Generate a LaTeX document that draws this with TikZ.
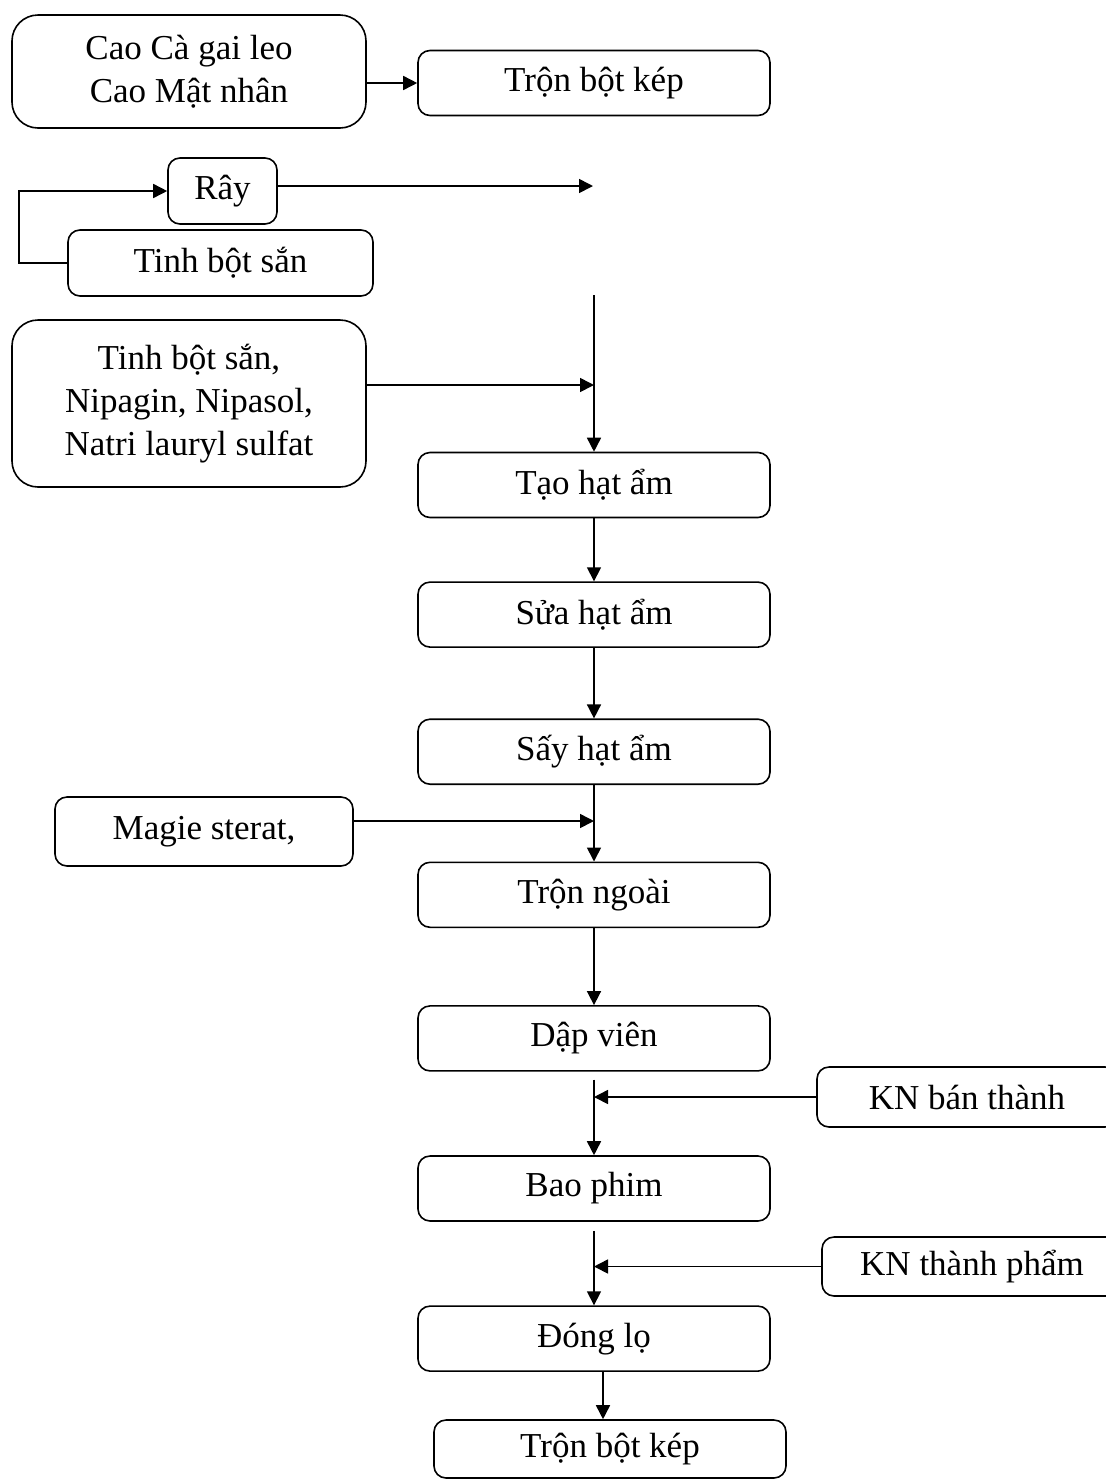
\documentclass[tikz,border=0pt]{standalone}
\usepackage{fontspec}
\setmainfont{Liberation Serif}
\usepackage{tikz}
\usetikzlibrary{arrows.meta,positioning}

\begin{document}
\begin{tikzpicture}[
  x=0.5pt, y=-0.5pt,
  stepbox/.style={draw, line width=0.8pt, rounded corners=6pt, minimum width=176pt, minimum height=32.5pt, align=center, font=\fontsize{17.5}{21.5}\selectfont},
  inbox/.style={stepbox, rounded corners=13pt},
  arr/.style={-{Triangle[length=7pt, width=7pt]}, line width=0.8pt}
]
  \useasboundingbox (0,0) rectangle (1105,1479);

  % inputs on the left
  \node[inbox, minimum width=177pt, minimum height=56.5pt] (cao) at (189,71.5) {Cao Cà gai leo\\Cao Mật nhân};
  \node[stepbox] (tronkep) at (594,83) {Trộn bột kép};
  \node[stepbox, minimum width=54.5pt, minimum height=33pt] (ray) at (222.5,191) {Rây};
  \node[stepbox, minimum width=152.5pt, minimum height=33pt] (tinhbot) at (220.5,263) {Tinh bột sắn};
  \node[inbox, minimum width=177pt, minimum height=83.5pt] (phulieu) at (189,403.5) {Tinh bột sắn,\\Nipagin, Nipasol,\\Natri lauryl sulfat};
  \node[stepbox, minimum width=149pt, minimum height=34.5pt] (magie) at (204,831.5) {Magie sterat,};

  % main column
  \node[stepbox] (taohat) at (594,485) {Tạo hạt ẩm};
  \node[stepbox, below=31.5pt of taohat]   (suahat)   {Sửa hạt ẩm};
  \node[stepbox, below=35.25pt of suahat]  (sayhat)   {Sấy hạt ẩm};
  \node[stepbox, below=38.25pt of sayhat]  (tronngoai) {Trộn ngoài};
  \node[stepbox, below=38.5pt of tronngoai] (dapvien) {Dập viên};
  \node[stepbox, below=41.75pt of dapvien] (baophim)  {Bao phim};
  \node[stepbox, below=41.75pt of baophim] (donglo)   {Đóng lọ};
  \node[stepbox, minimum height=29pt] (tronkep2) at (610,1449) {Trộn bột kép};

  % checks on the right
  \node[stepbox, minimum width=150pt, minimum height=30pt] (knban) at (967,1097) {KN bán thành};
  \node[stepbox, minimum width=150pt, minimum height=29.5pt] (kntp) at (972,1266.5) {KN thành phẩm};

  \coordinate (rayend) at (593,186);
  \coordinate (cottop) at (594,295);
  \coordinate (join1)  at (594,385);
  \coordinate (join2)  at (594,821);

  \draw[arr] (cao.east |- tronkep) -- (tronkep);
  \draw[arr] (tinhbot.west) -- ++(-48,0) |- (ray.west);
  \draw[arr] (ray.east |- rayend) -- (rayend);
  \draw[arr] (cottop) -- (taohat);
  \draw[arr] (phulieu.east |- join1) -- (join1);
  \draw[arr] (taohat) -- (suahat);
  \draw[arr] (suahat) -- (sayhat);
  \draw[arr] (sayhat) -- (tronngoai);
  \draw[arr] (magie.east |- join2) -- (join2);
  \draw[arr] (tronngoai) -- (dapvien);
  \draw[arr] ([yshift=-4pt]dapvien.south) -- (baophim);
  \draw[arr] (knban.west) -- (knban.west -| baophim);
  \draw[arr] ([yshift=-4.5pt]baophim.south) -- (donglo);
  \draw[arr] (kntp.west) -- (kntp.west -| donglo);
  \draw[arr] ([xshift=4.5pt]donglo.south) -- ([xshift=4.5pt]donglo.south |- tronkep2.north);
\end{tikzpicture}
\end{document}
